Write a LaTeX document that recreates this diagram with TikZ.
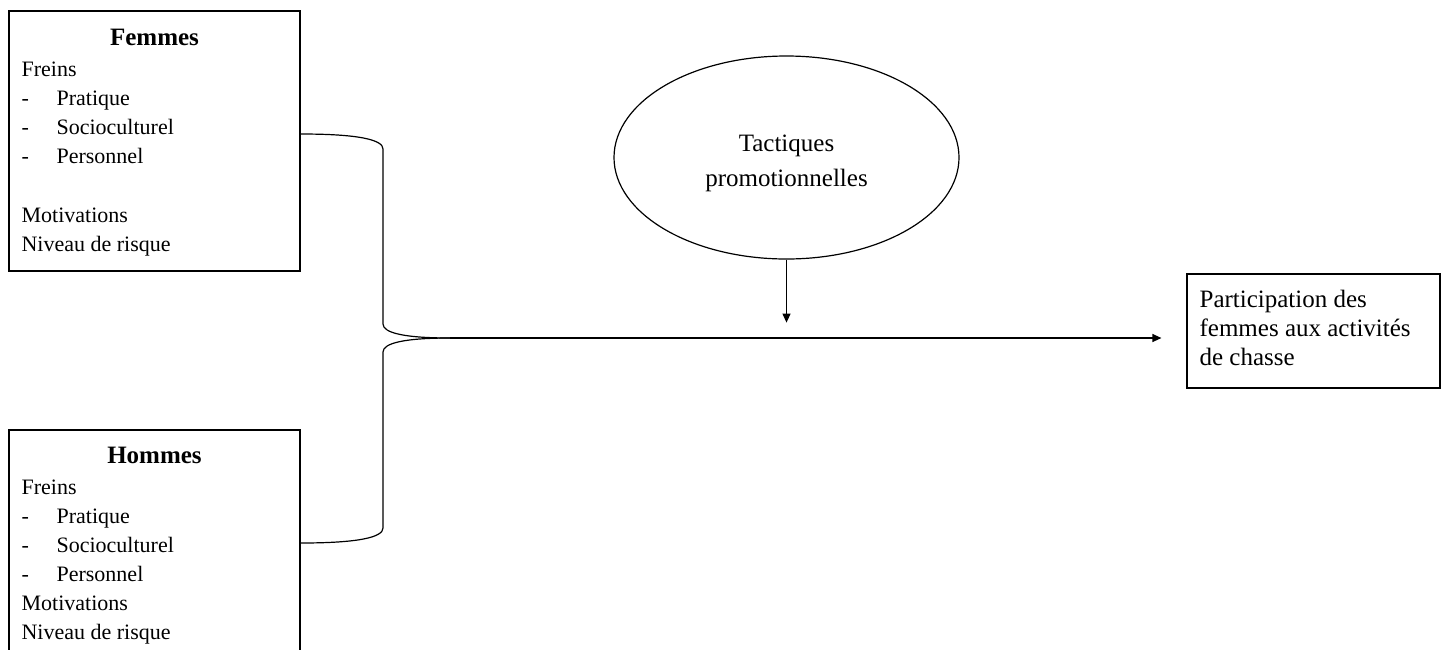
\documentclass[tikz,border=0pt]{standalone}
\usepackage{fontspec}
\setmainfont{Liberation Serif}
\usetikzlibrary{arrows.meta,shapes.geometric}
\begin{document}
\begin{tikzpicture}[x=1pt,y=-1pt,
  line width=1.2pt,
  box/.style={draw, rectangle, inner sep=0pt},
  txt/.style={anchor=base west, inner sep=0pt, font=\fontsize{22}{29}\selectfont},
  head/.style={anchor=base, inner sep=0pt, font=\fontsize{25}{29}\selectfont\bfseries},
  bigc/.style={anchor=base, inner sep=0pt, font=\fontsize{25}{29}\selectfont},
  bigl/.style={anchor=base west, inner sep=0pt, font=\fontsize{25}{29}\selectfont},
  arr/.style={-{Triangle[length=9pt,width=8pt]}}
]
\useasboundingbox (0,0) rectangle (1447,649);
\clip (0,0) rectangle (1447,649);

% boxes
\node[box, minimum width=291pt, minimum height=260pt] (fem) at (154.5,141) {};
\node[box, minimum width=291pt, minimum height=270pt] (hom) at (154.5,565) {};
\node[draw, ellipse, inner sep=0pt, minimum width=345pt, minimum height=203pt] (tac) at (786.5,157.5) {};
\node[box, minimum width=253pt, minimum height=114pt] (part) at (1313.5,331) {};

% Femmes text
\node[head] (femh) at (154.5,45) {Femmes};
\node[txt] (f1) at (21,76) {Freins};
\node[txt] (f2d) at (21,105) {-};
\node[txt] (f2) at (56,105) {Pratique};
\node[txt] (f3d) at (21,134) {-};
\node[txt] (f3) at (56,134) {Socioculturel};
\node[txt] (f4d) at (21,163) {-};
\node[txt] (f4) at (56,163) {Personnel};
\node[txt] (f5) at (21,222) {Motivations};
\node[txt] (f6) at (21,251) {Niveau de risque};

% Hommes text
\node[head] (homh) at (154.5,463) {Hommes};
\node[txt] (h1) at (21,494) {Freins};
\node[txt] (h2d) at (21,523) {-};
\node[txt] (h2) at (56,523) {Pratique};
\node[txt] (h3d) at (21,552) {-};
\node[txt] (h3) at (56,552) {Socioculturel};
\node[txt] (h4d) at (21,581) {-};
\node[txt] (h4) at (56,581) {Personnel};
\node[txt] (h5) at (21,610) {Motivations};
\node[txt] (h6) at (21,639) {Niveau de risque};

% ellipse text
\node[bigc] (t1) at (786.5,151) {Tactiques};
\node[bigc] (t2) at (786.5,186) {promotionnelles};

% participation text
\node[bigl] (p1) at (1199,307) {Participation des};
\node[bigl] (p2) at (1199,336) {femmes aux activités};
\node[bigl] (p3) at (1199,365) {de chasse};

% brace connectors
\coordinate (tip) at (450,338);
\draw (fem.east |- 0,134) .. controls (360,134) and (383,140) .. (383,149)
      -- (383,324) .. controls (383,333) and (405,338) .. (tip);
\draw (hom.east |- 0,543) .. controls (360,543) and (383,537) .. (383,528)
      -- (383,352) .. controls (383,343) and (405,338) .. (tip);

% arrows
\draw[arr, shorten >=25pt] (tip) -- (part.west |- tip);
\draw[arr] (tac.south) -- ++(0,63);
\end{tikzpicture}
\end{document}
